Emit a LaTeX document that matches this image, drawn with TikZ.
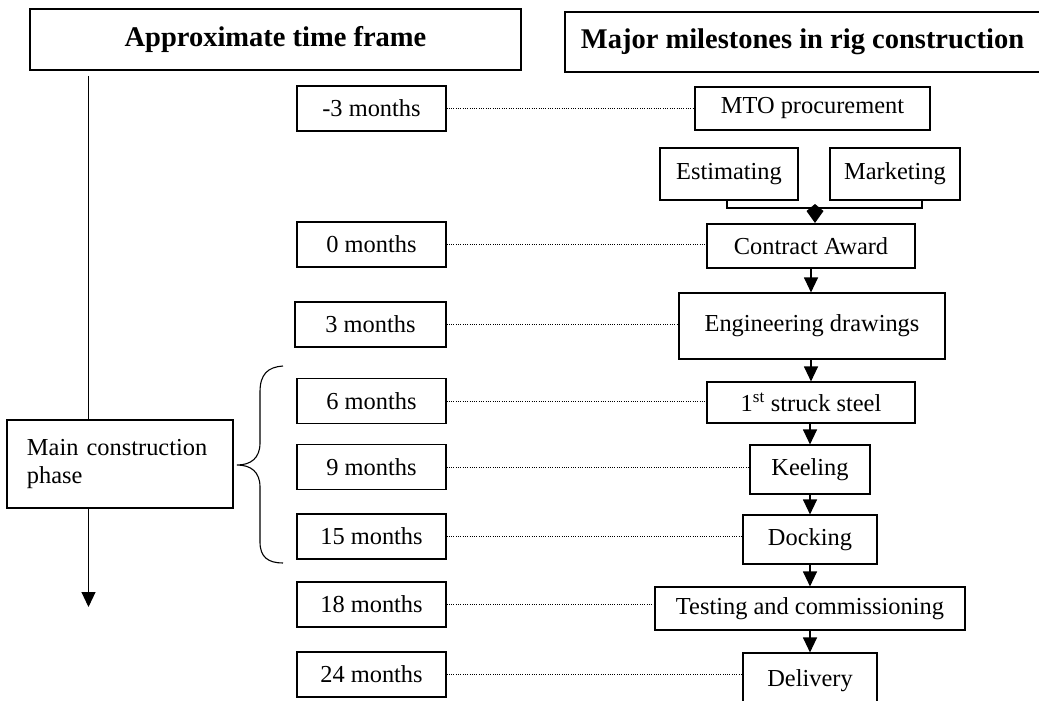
\documentclass[tikz,border=0pt]{standalone}
\usepackage{fontspec}
\setmainfont{Liberation Serif}
\usetikzlibrary{arrows.meta,calc}
\begin{document}
\begin{tikzpicture}[x=1pt,y=-1pt,
  every node/.style={font=\fontsize{24.4}{28}\selectfont},
  box/.style={draw, line width=1.1pt, fill=white, inner sep=0pt, anchor=center},
  hdr/.style={box, font=\fontsize{28.5}{32}\selectfont\bfseries},
  mbox/.style={box, minimum width=149pt, minimum height=45pt},
  dots/.style={line width=0.9pt, dash pattern=on 0.9pt off 1.4pt},
  flow/.style={line width=1.1pt, -{Triangle[length=15pt,width=14pt]}},
]
\useasboundingbox (0,0) rectangle (1039,701);
% headers
\node[hdr, minimum width=491pt, minimum height=61pt] (h1) at (275.5,39.5) {Approximate time frame};
\node[hdr, minimum width=475pt, minimum height=60pt] (h2) at (802.5,42) {Major milestones in rig construction};
% left time arrow
\coordinate (tstart) at (88.5,76);
\coordinate (tend) at (88.5,607);
\draw[flow] (tstart) -- (tend);
\node[box, minimum width=226pt, minimum height=88pt, text width=186pt, align=left] (main) at (120,464) {Main construction\\phase};
% month boxes
\node[mbox] (mA) at (371.5,108.5) {-3 months};
\node[mbox] (mB) at (371.5,244.5) {0 months};
\node[mbox, minimum width=151pt] (mC) at (370.5,324.5) {3 months};
\node[mbox] (mD) at (371.5,401) {6 months};
\node[mbox] (mE) at (371.5,467) {9 months};
\node[mbox] (mF) at (371.5,536.5) {15 months};
\node[mbox] (mG) at (371.5,604.5) {18 months};
\node[mbox] (mH) at (371.5,674.5) {24 months};
% milestones
\node[box, minimum width=235pt, minimum height=43pt] (mto) at (812.5,108.5) {MTO procurement};
\node[box, minimum width=138pt, minimum height=52pt] (est) at (729,174) {Estimating};
\node[box, minimum width=130pt, minimum height=52pt] (mkt) at (895,174) {Marketing};
\node[box, minimum width=208pt, minimum height=44pt] (ca) at (811,246) {Contract Award};
\node[box, minimum width=266pt, minimum height=66pt] (eng) at (812,326) {Engineering drawings};
\node[box, minimum width=208pt, minimum height=41pt] (ss) at (811,402.5) {1\textsuperscript{st} struck steel};
\node[box, minimum width=120pt, minimum height=49pt] (kee) at (810,469.5) {Keeling};
\node[box, minimum width=134pt, minimum height=49pt] (doc) at (810,539.5) {Docking};
\node[box, minimum width=310pt, minimum height=43pt] (tst) at (810,608.5) {Testing and commissioning};
\node[box, minimum width=134pt, minimum height=56pt] (del) at (810,681) {Delivery};
% dotted links
\draw[dots] (mA.east) -- (mA.east -| mto.west);
\draw[dots] (mB.east) -- (mB.east -| ca.west);
\draw[dots] (mC.east) -- (mC.east -| eng.west);
\draw[dots] (mD.east) -- (mD.east -| ss.west);
\draw[dots] (mE.east) -- (mE.east -| kee.west);
\draw[dots] (mF.east) -- (mF.east -| doc.west);
\draw[dots] (mG.east) -- (mG.east -| tst.west);
\draw[dots] (mH.east) -- (mH.east -| del.west);
% merge of estimating and marketing
\coordinate (jn) at (815,208);
\coordinate (jl) at (727,208);
\coordinate (jr) at (922,208);
\draw[line width=1.1pt] (jl |- est.south) -- (jl) -- (jr) -- (jr |- mkt.south);
\fill (815,204) -- (823.5,211) -- (815,223) -- (806.5,211) -- cycle;
% flow arrows
\draw[flow] (ca.south) -- (ca.south |- eng.north);
\draw[flow] (eng.south -| ca.south) -- (ss.north);
\draw[flow] (ss.south -| kee.north) -- (kee.north);
\draw[flow] (kee.south) -- (doc.north);
\draw[flow] (doc.south) -- (tst.north);
\draw[flow] (tst.south) -- (del.north);
% brace
\draw[line width=1.1pt] (283,366) .. controls (268,367) and (260,374) .. (260,392)
  -- (260,443) .. controls (260,458) and (251,465) .. (237,465)
  .. controls (251,465) and (260,472) .. (260,487)
  -- (260,542) .. controls (260,557) and (268,563) .. (283,563);
\end{tikzpicture}
\end{document}
